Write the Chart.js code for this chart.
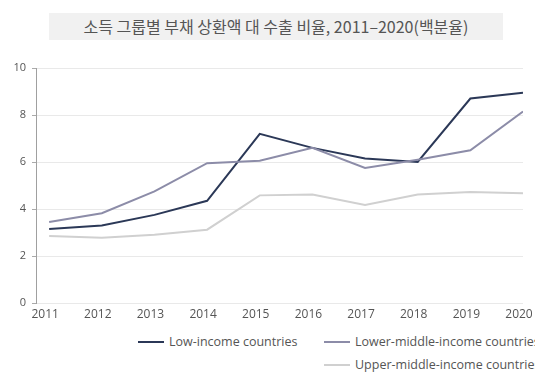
<!DOCTYPE html>
<html>
<head>
<meta charset="utf-8">
<script src="https://cdn.jsdelivr.net/npm/chart.js@4"></script>
<style>
  html, body { margin: 0; padding: 0; background: #fff; overflow: hidden; width: 535px; height: 377px; }
  #titulo {
    position: absolute; left: 49px; top: 13px; width: 454px; height: 27px;
    background: #f1f1f1; color: #555; text-align: center;
    font: 16px "Noto Sans CJK KR", sans-serif; line-height: 27px;
  }
  #wrap { position: absolute; left: 0; top: 0; width: 545px; height: 328px; }
  .leg { position: absolute; font: 12.5px "Open Sans", sans-serif; color: #555; white-space: nowrap; }
  .leg span { display: inline-block; width: 26px; height: 2px; vertical-align: middle; margin-right: 5px; position: relative; top: -1px; }
</style>
</head>
<body>
<div id="wrap"><canvas id="grafico"></canvas></div>
<div id="titulo">소득 그룹별 부채 상환액 대 수출 비율, 2011–2020(백분율)</div>
<div class="leg" style="left:138px; top:333px;"><span style="background:#2b3857"></span>Low-income countries</div>
<div class="leg" style="left:324px; top:333px;"><span style="background:#8c8ca8"></span>Lower-middle-income countries</div>
<div class="leg" style="left:324px; top:356px;"><span style="background:#d0d0d0"></span>Upper-middle-income countries</div>
<script>
const anos = [2011, 2012, 2013, 2014, 2015, 2016, 2017, 2018, 2019, 2020];
const baixa = [3.15, 3.3, 3.75, 4.35, 7.2, 6.6, 6.15, 6.0, 8.7, 8.95];
const mediaBaixa = [3.45, 3.82, 4.75, 5.95, 6.05, 6.6, 5.75, 6.1, 6.5, 8.15];
const mediaAlta = [2.85, 2.78, 2.9, 3.12, 4.58, 4.62, 4.17, 4.62, 4.72, 4.67];
const yTicks = [0, 2, 4, 6, 8, 10];

function serie(label, dados, cor) {
    return {
        label: label,
        data: anos.map((a, i) => ({ x: a, y: dados[i] })),
        borderColor: cor,
        backgroundColor: cor,
        borderWidth: 2,
        pointRadius: 0,
        tension: 0,
        fill: false
    };
}

let g = document.getElementById("grafico").getContext("2d");
let graficoChart = new Chart(g, {
    type: "line",
    data: {
        datasets: [
            serie("Upper-middle-income countries", mediaAlta, "#d0d0d0"),
            serie("Lower-middle-income countries", mediaBaixa, "#8c8ca8"),
            serie("Low-income countries", baixa, "#2b3857")
        ]
    },
    options: {
        responsive: true,
        maintainAspectRatio: false,
        animation: false,
        layout: { padding: { top: 68, right: 22, left: 0, bottom: 0 } },
        plugins: { legend: { display: false }, tooltip: { enabled: false } },
        scales: {
            x: {
                type: "linear",
                min: 2010.75,
                max: 2020,
                afterBuildTicks: function(s) { s.ticks = anos.map(v => ({ value: v })); },
                grid: { display: false, drawTicks: false },
                border: { display: false },
                ticks: { color: "#555", font: { family: "Open Sans", size: 12 }, padding: 4, labelOffset: -4, maxRotation: 0, autoSkip: false, callback: v => String(v) },
                afterFit: function(s) { s.height = 25; }
            },
            y: {
                min: 0,
                max: 10,
                afterBuildTicks: function(s) { s.ticks = yTicks.map(v => ({ value: v })); },
                grid: { color: "#e9e9e9", tickLength: 4, tickColor: "#aaa" },
                border: { display: true, color: "#a0a0a0" },
                ticks: { color: "#555", font: { family: "Open Sans", size: 11 }, padding: 6 },
                afterFit: function(s) { s.width = 36; }
            }
        }
    }
});
</script>
</body>
</html>
